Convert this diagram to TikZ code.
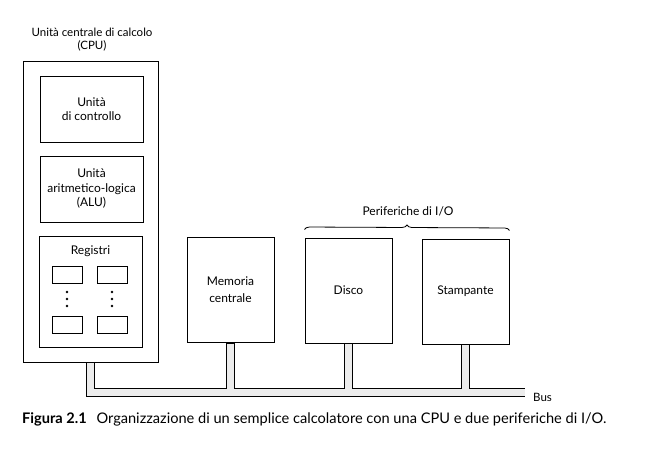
\documentclass[tikz,border=0pt]{standalone}
\usepackage{fontspec}
\setmainfont{Lato}
\usetikzlibrary{decorations.pathreplacing}

\tikzset{
  box/.style={draw, line width=1pt, align=center, inner sep=0pt,
    font=\fontsize{12}{14.5}\selectfont},
  reg/.style={draw, line width=0.9pt, minimum width=30pt, minimum height=17pt, inner sep=0pt},
  txt/.style={align=center, inner sep=0pt, font=\fontsize{11.5}{13}\selectfont},
  busout/.style={line width=9.5pt, black},
  busin/.style={line width=7pt, gray!15, shorten <=0.6pt},
}

\begin{document}
\begin{tikzpicture}[x=1pt,y=-1pt]
    \useasboundingbox[fill=white] (0,0) rectangle (649,455);

    % CPU with its units
    \node [txt] (cputitle) at (92,40) {Unità centrale di calcolo\\(CPU)};
    \node [box, minimum width=135pt, minimum height=301pt] (cpu) at (90.5,211.5) {};
    \node [box, minimum width=103pt, minimum height=66pt] (ctrl) at (91.5,109) {Unità\\di controllo};
    \node [box, minimum width=103pt, minimum height=66pt] (alu) at (91.5,189) {Unità\\aritmetico-logica\\(ALU)};
    \node [box, minimum width=103pt, minimum height=111pt] (regs) at (90.5,291.5) {};
    \node [box, draw=none] (regtitle) at (90.5,251) {Registri};

    % the registers
    \foreach \x in {67,112}
      \foreach \y [count=\r] in {274.5,324.5}
        \node [reg] (r\x-\r) at (\x,\y) {};
    \foreach \x in {67,112}
      \foreach \y in {292,299,306}
        \fill (\x,\y) circle (1.4pt);

    % memory and peripherals
    \node [box, minimum width=87pt, minimum height=105pt, font=\fontsize{12}{17}\selectfont] (mem) at (230.5,290) {Memoria\\centrale};
    \node [box, minimum width=87pt, minimum height=105pt] (disco) at (348.5,290.5) {Disco};
    \node [box, minimum width=87pt, minimum height=105pt] (stampa) at (465.5,291.5) {Stampante};

    \draw [decorate, decoration={brace, amplitude=5pt}, line width=0.8pt]
      ([yshift=8pt]disco.north west) -- ([yshift=8pt]stampa.north east);
    \node [box, draw=none] (perif) at (408,211) {Periferiche di I/O};

    % the bus
    \coordinate (busL) at (cpu.south |- 0,392.5);
    \coordinate (busR) at (525,392.5);
    \draw [busout] (cpu.south) -- (busL) -- (busR);
    \foreach \n in {mem,disco,stampa}
      \draw [busout] (\n.south) -- (\n.south |- busR);
    \draw [busin] (cpu.south) -- (busL) -- (busR);
    \foreach \n in {mem,disco,stampa}
      \draw [busin] (\n.south) -- (\n.south |- busR);
    \node [txt, anchor=base west] (buslabel) at (533,401) {Bus};

    % caption
    \node [anchor=base west, inner sep=0pt, font=\fontsize{14.6}{17}\selectfont] (caption) at (22,423)
      {\textbf{Figura 2.1}\hspace{6pt} Organizzazione di un semplice calcolatore con una CPU e due periferiche di I/O.};
\end{tikzpicture}
\end{document}
